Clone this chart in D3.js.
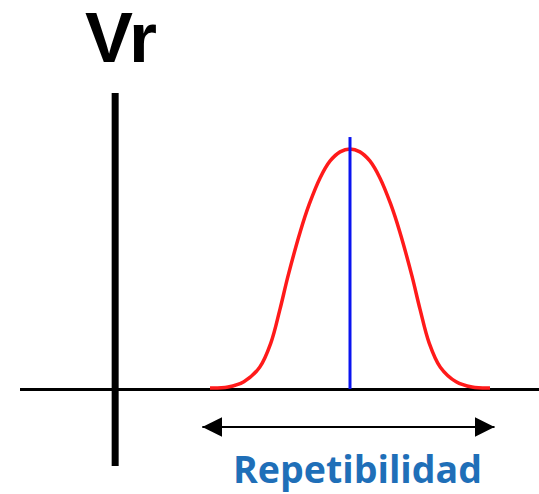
<!DOCTYPE html>
<html>
<head>
<meta charset="utf-8">
<script src="https://cdn.jsdelivr.net/npm/d3@7"></script>
<style>
  body { margin: 0; background: #fff; }
  svg { display: block; }
</style>
</head>
<body>
<div id="chart"></div>
<script>
// curve (x in sigma units, y relative to peak)
const curveX = [-3.1, -2.7, -2.35, -2.0, -1.75, -1.55, -1.37, -1.1, -0.9, -0.66, -0.44, -0.22, 0,
                0.22, 0.44, 0.66, 0.9, 1.1, 1.37, 1.55, 1.75, 2.0, 2.35, 2.7, 3.1];
const curveY = [0.0, 0.004, 0.026, 0.087, 0.19, 0.33, 0.47, 0.655, 0.77, 0.88, 0.95, 0.988, 1.0,
                0.988, 0.95, 0.88, 0.77, 0.655, 0.47, 0.33, 0.19, 0.087, 0.026, 0.004, 0.0];
const meanValue = 0;
const meanTop = 1.05;
const spanRange = [-3.27, 3.2];
const axisOriginX = -5.2;
const titleText = "Vr";
const spanLabel = "Repetibilidad";

const width = 539, height = 494;

const x = d3.scaleLinear().domain([-3.1, 3.1]).range([210, 490]);
const y = d3.scaleLinear().domain([0, 1]).range([388, 149]);

const svg = d3.select("#chart").append("svg")
    .attr("width", width)
    .attr("height", height);

// axes
svg.append("line")
    .attr("x1", 20).attr("x2", width)
    .attr("y1", y(0) + 1.5).attr("y2", y(0) + 1.5)
    .attr("stroke", "#000").attr("stroke-width", 3);

svg.append("line")
    .attr("x1", x(axisOriginX)).attr("x2", x(axisOriginX))
    .attr("y1", 93).attr("y2", 466)
    .attr("stroke", "#000").attr("stroke-width", 7);

// bell curve
const pts = curveX.map((v, i) => [v, curveY[i]]);
svg.append("path")
    .datum(pts)
    .attr("fill", "none")
    .attr("stroke", "#ff1a1a")
    .attr("stroke-width", 3.5)
    .attr("d", d3.line()
        .x(d => x(d[0]))
        .y(d => y(d[1]))
        .curve(d3.curveCatmullRom.alpha(0.5)));

// mean line
svg.append("line")
    .attr("x1", x(meanValue)).attr("x2", x(meanValue))
    .attr("y1", y(meanTop)).attr("y2", y(0) + 1)
    .attr("stroke", "#0a14f0").attr("stroke-width", 3);

// double arrow
const defs = svg.append("defs");
defs.append("marker")
    .attr("id", "arrowEnd")
    .attr("viewBox", "0 0 10 10")
    .attr("refX", 10).attr("refY", 5)
    .attr("markerWidth", 10).attr("markerHeight", 10)
    .attr("markerUnits", "strokeWidth")
    .attr("orient", "auto-start-reverse")
    .append("path")
    .attr("d", "M0,0 L10,5 L0,10 Z")
    .attr("fill", "#000");

const ay = 427;
svg.append("line")
    .attr("x1", x(spanRange[0])).attr("x2", x(spanRange[1]))
    .attr("y1", ay).attr("y2", ay)
    .attr("stroke", "#000").attr("stroke-width", 2)
    .attr("marker-start", "url(#arrowEnd)")
    .attr("marker-end", "url(#arrowEnd)");

// texts
svg.append("text")
    .attr("x", 85).attr("y", 62)
    .attr("font-family", "Liberation Sans, Arial, sans-serif")
    .attr("font-weight", "bold")
    .attr("font-size", 70)
    .attr("textLength", 72)
    .attr("lengthAdjust", "spacingAndGlyphs")
    .attr("fill", "#000")
    .text(titleText);

svg.append("text")
    .attr("x", 233).attr("y", 483)
    .attr("font-family", "Open Sans, Liberation Sans, sans-serif")
    .attr("font-weight", "bold")
    .attr("font-size", 38)
    .attr("textLength", 249)
    .attr("lengthAdjust", "spacingAndGlyphs")
    .attr("fill", "#1f6fb8")
    .text(spanLabel);
</script>
</body>
</html>
